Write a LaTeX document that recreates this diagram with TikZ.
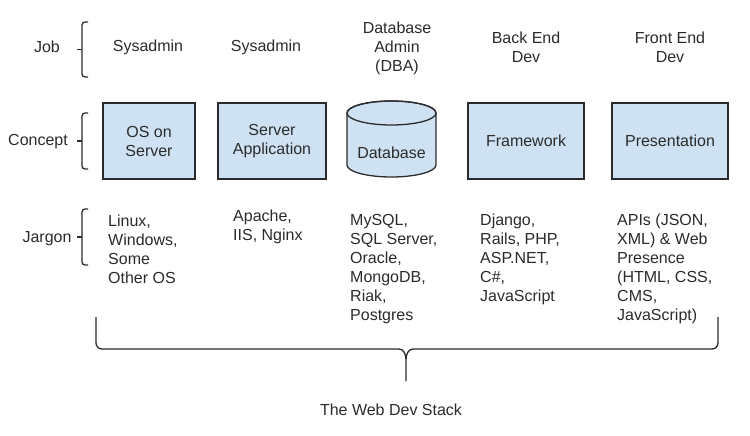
\documentclass[tikz,border=0pt]{standalone}
\usepackage{fontspec}
\setmainfont{Liberation Sans}
\definecolor{boxblue}{HTML}{CFE2F3}
\definecolor{inkgray}{HTML}{2B2B2B}

\begin{document}
\begin{tikzpicture}
  [x=1pt,y=-1pt,
  every node/.style={font=\fontsize{16}{19}\selectfont,text=inkgray,inner sep=0pt},
  concept node/.style={rectangle,draw=inkgray,fill=boxblue,line width=1.3pt,
    minimum height=76pt,align=center},
  job node/.style={align=center},
  jargon node/.style={anchor=north west,align=left},
  brace/.style={draw=inkgray,line width=1.3pt,rounded corners=3pt}]

  \useasboundingbox (0,0) rectangle (750,436);

  % row labels
  \node (job) at (47,47) {Job};
  \node (concept) at (38,142) {Concept};
  \node (jargon) at (47,239) {Jargon};

  \draw[brace] (88,22) -- (82,22) -- (82,77) -- (88,77);
  \draw[brace] (82,49.5) -- (77,49.5);
  \draw[brace] (88,113) -- (82,113) -- (82,169) -- (88,169);
  \draw[brace] (82,141) -- (77,141);
  \draw[brace] (88,209) -- (82,209) -- (82,265) -- (88,265);
  \draw[brace] (82,237) -- (77,237);

  % jobs
  \node[job node] (j1) at (148,47) {Sysadmin};
  \node[job node] (j2) at (266,47) {Sysadmin};
  \node[job node] (j3) at (397,48) {Database\\Admin\\(DBA)};
  \node[job node] (j4) at (526,47.5) {Back End\\Dev};
  \node[job node] (j5) at (670,47.5) {Front End\\Dev};

  % concepts
  \node[concept node,minimum width=92pt] (os) at (149,141) {OS on\\Server};
  \node[concept node,minimum width=108pt] (app) at (272,141) {Server\\Application};
  \filldraw[draw=inkgray,fill=boxblue,line width=1.3pt]
    (347,113) -- (347,165) arc[start angle=180,end angle=360,x radius=44.5pt,y radius=12pt]
    -- (436,113) arc[start angle=0,end angle=180,x radius=44.5pt,y radius=12pt] -- cycle;
  \draw[draw=inkgray,line width=1.3pt] (391.5,113) ellipse[x radius=44.5pt,y radius=12pt];
  \node (db) at (391.5,153) {Database};
  \node[concept node,minimum width=116pt] (fw) at (526,141) {Framework};
  \node[concept node,minimum width=116pt] (pres) at (670,141) {Presentation};

  % jargon
  \node[jargon node] (t1) at (108,215) {Linux,\\Windows,\\Some\\Other OS};
  \node[jargon node] (t2) at (233,210) {Apache,\\IIS, Nginx};
  \node[jargon node] (t3) at (350,214) {MySQL,\\SQL Server,\\Oracle,\\MongoDB,\\Riak,\\Postgres};
  \node[jargon node] (t4) at (480,214) {Django,\\Rails, PHP,\\ASP.NET,\\C\#,\\JavaScript};
  \node[jargon node] (t5) at (617,214) {APIs (JSON,\\XML) \& Web\\Presence\\(HTML, CSS,\\CMS,\\JavaScript)};

  % the stack brace
  \coordinate (tip) at (406,381);
  \draw[draw=inkgray,line width=1.3pt]
    (96,317) -- (96,343) to[out=270,in=180] (102,349) -- (399,349)
    to[out=0,in=90] (tip |- 0,360) -- (tip)
    (tip |- 0,360) to[out=90,in=180] (413,349) -- (712,349)
    to[out=0,in=270] (718,343) -- (718,317);
  \node (stack) at (391,410) {The Web Dev Stack};
\end{tikzpicture}
\end{document}
